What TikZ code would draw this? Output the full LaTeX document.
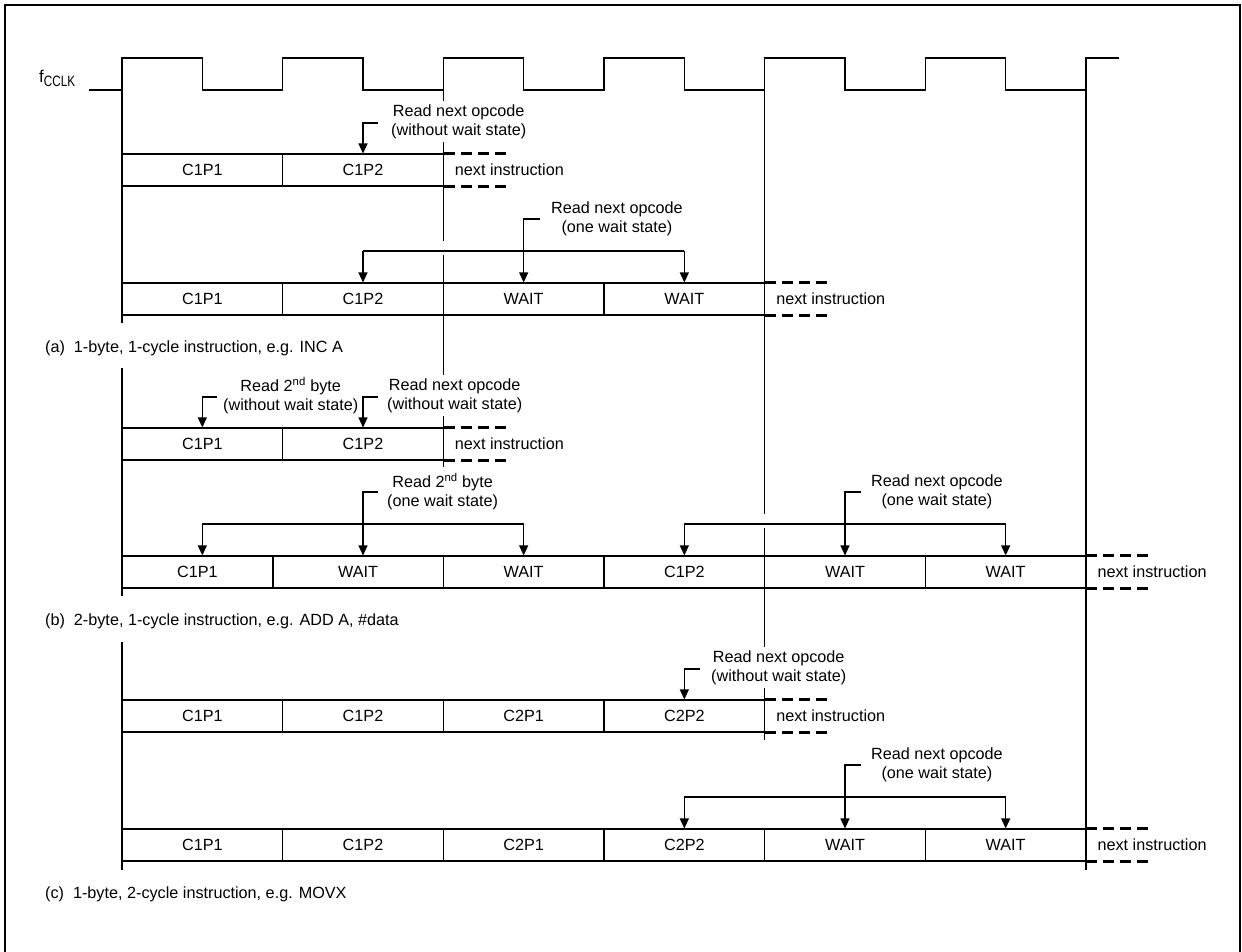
\documentclass[tikz,border=0pt]{standalone}
\usepackage{fontspec}
\usepackage{graphicx}
\setmainfont{Liberation Sans}
\usetikzlibrary{arrows.meta}
\begin{document}
\begin{tikzpicture}[x=1pt,y=-1pt,
  font=\fontsize{16.2pt}{19pt}\selectfont,
  ln/.style={line width=1.1pt},
  frame/.style={line width=2.6pt},
  dashend/.style={line width=2.6pt, dash pattern=on 11pt off 6pt},
  arr/.style={ln, -{Triangle[length=10pt,width=9pt]}},
  cell/.style={draw, line width=1.1pt, minimum width=160.33pt, minimum height=32pt, inner sep=0pt},
  lbl/.style={align=center, anchor=west, fill=white, inner xsep=2pt, inner ysep=3pt},
  nexti/.style={anchor=west, inner sep=0pt},
  captxt/.style={anchor=west, inner sep=0pt}]
\useasboundingbox (0,0) rectangle (1242,951);
\clip (0,0) rectangle (1242,951);
% frame
\draw[frame] (5,960) -- (5,5) -- (1240,5) -- (1240,960);
% clock
\node[anchor=base west, inner sep=0pt] (fclk) at (39,82) {\fontsize{17pt}{17pt}\selectfont f\raisebox{-4pt}{\scalebox{0.78}[1]{\fontsize{15pt}{15pt}\selectfont CCLK}}};
\draw[ln] (89,90) -- (122,90) -- (122,58) -- (202.33,58) -- (202.33,90) -- (282.67,90) -- (282.67,58)
  -- (363,58) -- (363,90) -- (443.33,90) -- (443.33,58) -- (523.67,58) -- (523.67,90) -- (604,90)
  -- (604,58) -- (684.33,58) -- (684.33,90) -- (764.67,90) -- (764.67,58) -- (845,58) -- (845,90)
  -- (925.33,90) -- (925.33,58) -- (1005.67,58) -- (1005.67,90) -- (1086,90) -- (1086,58) -- (1119,58);
% long vertical lines
\draw[ln] (122,90) -- (122,323) (122,368) -- (122,596) (122,642) -- (122,870);
\draw[ln] (443.33,90) -- (443.33,241) (443.33,255) -- (443.33,467);
\draw[ln] (764.67,90) -- (764.67,514) (764.67,528) -- (764.67,740);
\draw[ln] (1086,90) -- (1086,870);

% ---------- (a) row 1 ----------
\node[cell] (a1c1) at (202.33,170) {C1P1};
\node[cell] (a1c2) at (363,170) {C1P2};
\draw[dashend] (a1c2.north east) -- ++(65,0) (a1c2.south east) -- ++(65,0);
\node[nexti] (a1n) at ([xshift=11pt]a1c2.east) {next instruction};
\node[lbl] (a1l) at (389,121.5) {Read next opcode\\(without wait state)};
\coordinate (a1s) at (378,123);
\draw[arr] (a1s) -| (a1c2.north);

% ---------- (a) row 2 ----------
\node[cell] (a2c1) at (202.33,299) {C1P1};
\node[cell] (a2c2) at (363,299) {C1P2};
\node[cell] (a2c3) at (523.67,299) {WAIT};
\node[cell] (a2c4) at (684.33,299) {WAIT};
\draw[dashend] (a2c4.north east) -- ++(65,0) (a2c4.south east) -- ++(65,0);
\node[nexti] (a2n) at ([xshift=11pt]a2c4.east) {next instruction};
\node[lbl] (a2l) at (549,218.5) {Read next opcode\\(one wait state)};
\coordinate (a2bl) at (363,251);
\coordinate (a2br) at (684.33,251);
\coordinate (a2s) at (539.67,219);
\draw[ln] (a2bl) -- (a2br);
\draw[arr] (a2bl) -- (a2c2.north);
\draw[arr] (a2br) -- (a2c4.north);
\draw[arr] (a2s) -| (a2c3.north);
\node[captxt] (capa) at (45,348) {(a)\ \ 1-byte, 1-cycle instruction, e.g. INC A};

% ---------- (b) row 1 ----------
\node[cell] (b1c1) at (202.33,444) {C1P1};
\node[cell] (b1c2) at (363,444) {C1P2};
\draw[dashend] (b1c2.north east) -- ++(65,0) (b1c2.south east) -- ++(65,0);
\node[nexti] (b1n) at ([xshift=11pt]b1c2.east) {next instruction};
\node[lbl] (b1l1) at (221,395.5) {Read 2\textsuperscript{nd} byte\\(without wait state)};
\node[lbl] (b1l2) at (385,395.5) {Read next opcode\\(without wait state)};
\coordinate (b1s1) at (217,397);
\coordinate (b1s2) at (378,397);
\draw[arr] (b1s1) -| (b1c1.north);
\draw[arr] (b1s2) -| (b1c2.north);

% ---------- (b) row 2 ----------
\node[cell, minimum width=151pt] (b2c1) at (197.5,572) {C1P1};
\node[cell, minimum width=170.33pt] (b2c2) at (358.17,572) {WAIT};
\node[cell] (b2c3) at (523.67,572) {WAIT};
\node[cell] (b2c4) at (684.33,572) {C1P2};
\node[cell] (b2c5) at (845,572) {WAIT};
\node[cell] (b2c6) at (1005.67,572) {WAIT};
\draw[dashend] (b2c6.north east) -- ++(65,0) (b2c6.south east) -- ++(65,0);
\node[nexti] (b2n) at ([xshift=11pt]b2c6.east) {next instruction};
\node[lbl] (b2l1) at (385,491.5) {Read 2\textsuperscript{nd} byte\\(one wait state)};
\node[lbl] (b2l2) at (869,491.5) {Read next opcode\\(one wait state)};
\coordinate (b2bl) at (202.33,524);
\coordinate (b2bm) at (363,524);
\coordinate (b2br) at (523.67,524);
\coordinate (b2s1) at (378,492);
\draw[ln] (b2bl) -- (b2br);
\draw[arr] (b2bl) -- (b2bl |- b2c1.north);
\draw[arr] (b2s1) -| (b2bm |- b2c2.north);
\draw[arr] (b2br) -- (b2c3.north);
\coordinate (b2cl) at (684.33,524);
\coordinate (b2cr) at (1005.67,524);
\coordinate (b2s2) at (861,492);
\draw[ln] (b2cl) -- (b2cr);
\draw[arr] (b2cl) -- (b2c4.north);
\draw[arr] (b2s2) -| (b2c5.north);
\draw[arr] (b2cr) -- (b2c6.north);
\node[captxt] (capb) at (45,621) {(b)\ \ 2-byte, 1-cycle instruction, e.g. ADD A, \#data};

% ---------- (c) row 1 ----------
\node[cell] (c1c1) at (202.33,716) {C1P1};
\node[cell] (c1c2) at (363,716) {C1P2};
\node[cell] (c1c3) at (523.67,716) {C2P1};
\node[cell] (c1c4) at (684.33,716) {C2P2};
\draw[dashend] (c1c4.north east) -- ++(65,0) (c1c4.south east) -- ++(65,0);
\node[nexti] (c1n) at ([xshift=11pt]c1c4.east) {next instruction};
\node[lbl] (c1l) at (709,667.5) {Read next opcode\\(without wait state)};
\coordinate (c1s) at (700.33,669);
\draw[arr] (c1s) -| (c1c4.north);

% ---------- (c) row 2 ----------
\node[cell] (c2c1) at (202.33,845) {C1P1};
\node[cell] (c2c2) at (363,845) {C1P2};
\node[cell] (c2c3) at (523.67,845) {C2P1};
\node[cell] (c2c4) at (684.33,845) {C2P2};
\node[cell] (c2c5) at (845,845) {WAIT};
\node[cell] (c2c6) at (1005.67,845) {WAIT};
\draw[dashend] (c2c6.north east) -- ++(65,0) (c2c6.south east) -- ++(65,0);
\node[nexti] (c2n) at ([xshift=11pt]c2c6.east) {next instruction};
\node[lbl] (c2l) at (869,764.5) {Read next opcode\\(one wait state)};
\coordinate (c2bl) at (684.33,797);
\coordinate (c2br) at (1005.67,797);
\coordinate (c2s) at (861,765);
\draw[ln] (c2bl) -- (c2br);
\draw[arr] (c2bl) -- (c2c4.north);
\draw[arr] (c2s) -| (c2c5.north);
\draw[arr] (c2br) -- (c2c6.north);
\node[captxt] (capc) at (45,894) {(c)\ \ 1-byte, 2-cycle instruction, e.g. MOVX};
\end{tikzpicture}
\end{document}
